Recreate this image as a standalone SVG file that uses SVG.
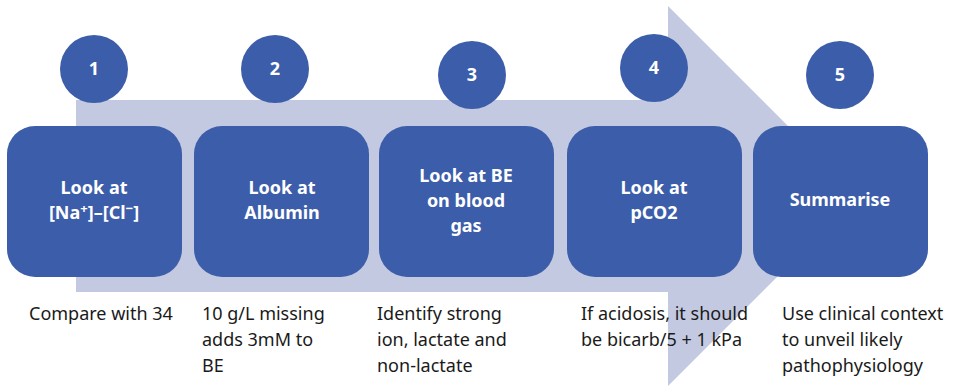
<svg xmlns="http://www.w3.org/2000/svg" width="953" height="386" viewBox="0 0 953 386">
  <style>
    .step { fill: #3C5DA9; }
    .badge { fill: #3C5DA9; }
    .title { font-family: "Noto Sans", "Open Sans", sans-serif; font-weight: bold; font-size: 18px; fill: #FFFFFF; text-anchor: middle; }
    .num { font-family: "Noto Sans", "Open Sans", sans-serif; font-weight: bold; font-size: 18px; fill: #FFFFFF; text-anchor: middle; }
    .note { font-family: "Noto Sans", "Open Sans", sans-serif; font-size: 18px; fill: #1A1A1A; }
  </style>

  <!-- background flow arrow -->
  <g id="connectors">
    <polygon points="76,100 668,100 668,6 858,196 668,386 668,292 76,292" fill="#C3C9E1"/>
  </g>

  <g id="step1">
    <rect class="step" x="7" y="126" width="175" height="151" rx="28"/>
    <circle class="badge" cx="94" cy="69" r="34"/>
    <text class="num" x="94" y="75">1</text>
    <text class="title" x="94" y="194">Look at</text>
    <text class="title" x="94" y="219">[Na<tspan dy="-6" font-size="13">+</tspan><tspan dy="6">]–[Cl</tspan><tspan dy="-6" font-size="13">−</tspan><tspan dy="6">]</tspan></text>
    <text class="note" x="29" y="320">Compare with 34</text>
  </g>

  <g id="step2">
    <rect class="step" x="194" y="126" width="175" height="151" rx="28"/>
    <circle class="badge" cx="275" cy="69" r="34"/>
    <text class="num" x="275" y="75">2</text>
    <text class="title" x="282" y="194">Look at</text>
    <text class="title" x="282" y="219">Albumin</text>
    <text class="note" x="202" y="320">10 g/L missing</text>
    <text class="note" x="202" y="346">adds 3mM to</text>
    <text class="note" x="202" y="372">BE</text>
  </g>

  <g id="step3">
    <rect class="step" x="379" y="126" width="175" height="151" rx="28"/>
    <circle class="badge" cx="472" cy="75" r="34"/>
    <text class="num" x="472" y="81">3</text>
    <text class="title" x="466" y="182">Look at BE</text>
    <text class="title" x="466" y="207">on blood</text>
    <text class="title" x="466" y="232">gas</text>
    <text class="note" x="377" y="320">Identify strong</text>
    <text class="note" x="377" y="346">ion, lactate and</text>
    <text class="note" x="377" y="372">non-lactate</text>
  </g>

  <g id="step4">
    <rect class="step" x="567" y="126" width="175" height="151" rx="28"/>
    <circle class="badge" cx="654" cy="68" r="34"/>
    <text class="num" x="654" y="74">4</text>
    <text class="title" x="654" y="194">Look at</text>
    <text class="title" x="654" y="219">pCO2</text>
    <text class="note" x="581" y="320">If acidosis, it should</text>
    <text class="note" x="581" y="346">be bicarb/5 + 1 kPa</text>
  </g>

  <g id="step5">
    <rect class="step" x="753" y="126" width="175" height="151" rx="28"/>
    <circle class="badge" cx="840" cy="75" r="34"/>
    <text class="num" x="840" y="81">5</text>
    <text class="title" x="840" y="206">Summarise</text>
    <text class="note" x="782" y="320">Use clinical context</text>
    <text class="note" x="782" y="346">to unveil likely</text>
    <text class="note" x="782" y="372">pathophysiology</text>
  </g>
</svg>
